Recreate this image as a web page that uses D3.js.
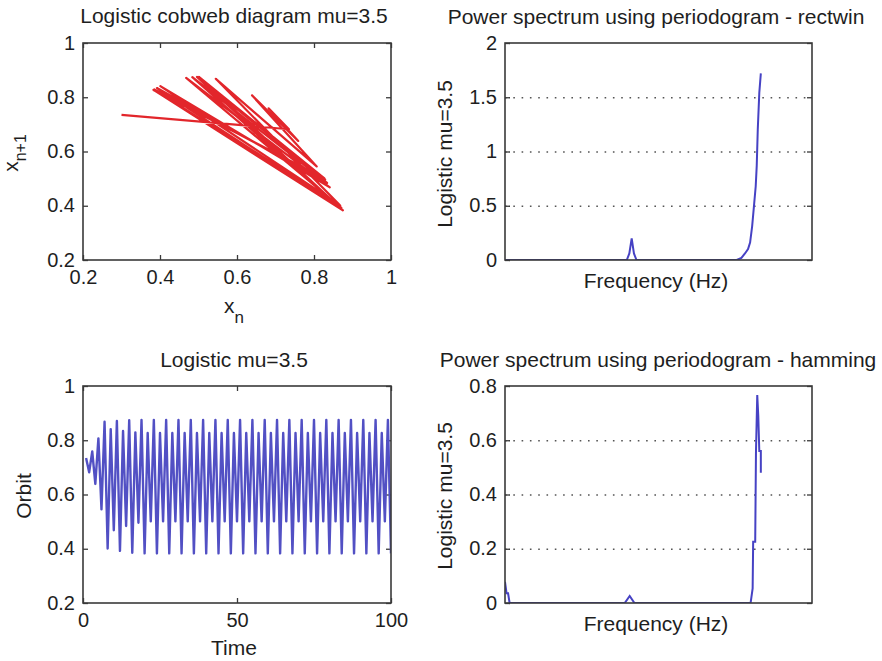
<!DOCTYPE html>
<html>
<head>
<meta charset="utf-8">
<script src="https://cdn.jsdelivr.net/npm/d3@7"></script>
<style>
  html, body { margin: 0; padding: 0; background: #fff; }
  svg { display: block; }
  text { font-family: "Liberation Sans", Arial, Helvetica, sans-serif; fill: #1e1e1e; }
</style>
</head>
<body>
<svg id="chart" width="882" height="661"></svg>
<script>
// ---------- DATA ----------
// logistic orbit x_0 .. x_100 (mu = 3.5)
const orbit = [
  0.300, 0.735, 0.682, 0.759, 0.639, 0.807, 0.545, 0.868, 0.401, 0.841,
  0.468, 0.871, 0.392, 0.834, 0.484, 0.874, 0.385, 0.829, 0.496, 0.875,
  0.383, 0.827, 0.501, 0.875, 0.383, 0.827, 0.501, 0.875, 0.383, 0.827,
  0.501, 0.875, 0.383, 0.827, 0.501, 0.875, 0.383, 0.827, 0.501, 0.875,
  0.383, 0.827, 0.501, 0.875, 0.383, 0.827, 0.501, 0.875, 0.383, 0.827,
  0.501, 0.875, 0.383, 0.827, 0.501, 0.875, 0.383, 0.827, 0.501, 0.875,
  0.383, 0.827, 0.501, 0.875, 0.383, 0.827, 0.501, 0.875, 0.383, 0.827,
  0.501, 0.875, 0.383, 0.827, 0.501, 0.875, 0.383, 0.827, 0.501, 0.875,
  0.383, 0.827, 0.501, 0.875, 0.383, 0.827, 0.501, 0.875, 0.383, 0.827,
  0.501, 0.875, 0.383, 0.827, 0.501, 0.875, 0.383, 0.827, 0.501, 0.875,
  0.383
];
// time index of the orbit plot (x_1 .. x_100 shown at t = 1 .. 100)
const orbitTime = d3.range(1, 101);

// periodogram, rectangular window
const rectFreq  = [0, 0.238, 0.243, 0.2476, 0.252, 0.257, 0.453, 0.462, 0.469, 0.475, 0.479, 0.483, 0.487, 0.490, 0.492, 0.494, 0.497, 0.500];
const rectPower = [0, 0,     0.06,  0.20,   0.06,  0,     0,     0.02,  0.06,  0.10,  0.16,  0.31,  0.52,  0.68,  0.87,  1.20,  1.54,  1.72];

// periodogram, hamming window
const hamFreq  = [0,     0.003, 0.006, 0.009, 0.234, 0.2437, 0.253, 0.480, 0.484, 0.485, 0.489, 0.4905, 0.493, 0.495, 0.497, 0.500, 0.500];
const hamPower = [0.078, 0.036, 0.036, 0,     0,     0.026,  0,     0,     0.054, 0.226, 0.226, 0.558,  0.767, 0.690, 0.560, 0.560, 0.480];

// tick labels
const unitTicks   = [0.2, 0.4, 0.6, 0.8, 1];
const timeTicks   = [0, 50, 100];
const rectTicks   = [0, 0.5, 1, 1.5, 2];
const hamTicks    = [0, 0.2, 0.4, 0.6, 0.8];

// texts
const titles = [
  "Logistic cobweb diagram mu=3.5",
  "Power spectrum using periodogram - rectwin",
  "Logistic mu=3.5",
  "Power spectrum using periodogram - hamming"
];

// ---------- DRAWING ----------
const svg = d3.select("#chart");
const fmt = d3.format("~g");
const BOX = "#3a3a3a";

function panel(opt) {
  const { left, top, right, bottom, x, y } = opt;
  const g = svg.append("g");
  const W = right - left, H = bottom - top;

  // grid
  if (opt.grid) {
    const gv = opt.yTicks.filter(v => v !== y.domain()[0] && v !== y.domain()[1]);
    g.append("g").attr("transform", `translate(${left},0)`)
      .call(d3.axisLeft(y).tickValues(gv).tickSize(-W).tickFormat(""))
      .call(s => s.select(".domain").remove())
      .call(s => s.selectAll("line").attr("stroke", "#555").attr("stroke-width", 1.6)
        .attr("stroke-dasharray", "1.6,6.7").attr("stroke-linecap", "butt"));
  }

  // inward ticks + labels
  const yl = g.append("g").attr("transform", `translate(${left},0)`)
    .call(d3.axisLeft(y).tickValues(opt.yTicks).tickSizeInner(-5).tickSizeOuter(0).tickPadding(8).tickFormat(fmt));
  yl.select(".domain").remove();
  yl.selectAll("text").attr("font-size", 20).attr("dy", "0.3em")
    .attr("font-family", "'Liberation Sans', Arial, sans-serif").attr("fill", "#1e1e1e");
  const yr = g.append("g").attr("transform", `translate(${right},0)`)
    .call(d3.axisRight(y).tickValues(opt.yTicks).tickSizeInner(-5).tickSizeOuter(0).tickFormat(""));
  yr.select(".domain").remove();

  if (opt.xTicks) {
    const xb = g.append("g").attr("transform", `translate(0,${bottom})`)
      .call(d3.axisBottom(x).tickValues(opt.xTicks).tickSizeInner(-5).tickSizeOuter(0).tickPadding(10).tickFormat(fmt));
    xb.select(".domain").remove();
    xb.selectAll("text").attr("font-size", 20)
      .attr("font-family", "'Liberation Sans', Arial, sans-serif").attr("fill", "#1e1e1e");
    const xt = g.append("g").attr("transform", `translate(0,${top})`)
      .call(d3.axisTop(x).tickValues(opt.xTicks).tickSizeInner(-5).tickSizeOuter(0).tickFormat(""));
    xt.select(".domain").remove();
  }
  g.selectAll(".tick line").filter(function () { return !this.getAttribute("stroke-dasharray"); })
    .attr("stroke", BOX).attr("stroke-width", 1.3);

  // data
  const clip = "clip" + Math.round(left) + "_" + Math.round(top);
  svg.append("clipPath").attr("id", clip).append("rect")
    .attr("x", left).attr("y", top).attr("width", W).attr("height", H);
  const dg = g.append("g").attr("clip-path", `url(#${clip})`);
  opt.draw(dg);

  // box
  g.append("rect").attr("x", left).attr("y", top).attr("width", W).attr("height", H)
    .attr("fill", "none").attr("stroke", BOX).attr("stroke-width", 1.6);

  // title
  svg.append("text").attr("x", opt.titleX).attr("y", opt.titleY).attr("text-anchor", "middle")
    .attr("font-size", 21).text(opt.title);
}

// ---- top-left: cobweb ----
{
  const x = d3.scaleLinear().domain([0.2, 1]).range([83, 391]);
  const y = d3.scaleLinear().domain([0.2, 1]).range([260, 43]);
  const pairs = d3.range(orbit.length - 1).map(i => [orbit[i], orbit[i + 1]]);
  panel({
    left: 83, top: 43, right: 391, bottom: 260, x, y,
    yTicks: unitTicks, xTicks: unitTicks,
    title: titles[0], titleX: 234, titleY: 23,
    draw: g => g.append("path").datum(pairs)
      .attr("d", d3.line().x(d => x(d[0])).y(d => y(d[1])))
      .attr("fill", "none").attr("stroke", "#e2262b").attr("stroke-width", 2.2)
      .attr("stroke-linejoin", "round")
  });
  const xl = svg.append("text").attr("x", 234).attr("y", 313).attr("text-anchor", "middle").attr("font-size", 21);
  xl.append("tspan").text("x");
  xl.append("tspan").attr("dy", 10).attr("font-size", 17).text("n");
  const yl = svg.append("text").attr("transform", "translate(18,153) rotate(-90)")
    .attr("text-anchor", "middle").attr("font-size", 21);
  yl.append("tspan").text("x");
  yl.append("tspan").attr("dy", 8).attr("font-size", 16).text("n+1");
}

// ---- top-right: rectwin periodogram ----
{
  const x = d3.scaleLinear().domain([0, 0.6]).range([505, 812]);
  const y = d3.scaleLinear().domain([0, 2]).range([260, 43]);
  panel({
    left: 505, top: 43, right: 812, bottom: 260, x, y,
    yTicks: rectTicks, grid: true,
    title: titles[1], titleX: 656, titleY: 24,
    draw: g => g.append("path").datum(d3.zip(rectFreq, rectPower))
      .attr("d", d3.line().x(d => x(d[0])).y(d => y(d[1])))
      .attr("fill", "none").attr("stroke", "#4642c4").attr("stroke-width", 2)
  });
  svg.append("text").attr("x", 656).attr("y", 288).attr("text-anchor", "middle").attr("font-size", 21).text("Frequency (Hz)");
  svg.append("text").attr("transform", "translate(452,154) rotate(-90)")
    .attr("text-anchor", "middle").attr("font-size", 21).text("Logistic mu=3.5");
}

// ---- bottom-left: orbit ----
{
  const x = d3.scaleLinear().domain([0, 100]).range([83, 391]);
  const y = d3.scaleLinear().domain([0.2, 1]).range([603, 386]);
  panel({
    left: 83, top: 386, right: 391, bottom: 603, x, y,
    yTicks: unitTicks, xTicks: timeTicks,
    title: titles[2], titleX: 234, titleY: 367,
    draw: g => g.append("path").datum(orbitTime.map(t => [t, orbit[t]]))
      .attr("d", d3.line().x(d => x(d[0])).y(d => y(d[1])))
      .attr("fill", "none").attr("stroke", "#5250c4").attr("stroke-width", 2.4)
      .attr("stroke-linejoin", "round")
  });
  svg.append("text").attr("x", 234).attr("y", 655).attr("text-anchor", "middle").attr("font-size", 21).text("Time");
  svg.append("text").attr("transform", "translate(31,496) rotate(-90)")
    .attr("text-anchor", "middle").attr("font-size", 21).text("Orbit");
}

// ---- bottom-right: hamming periodogram ----
{
  const x = d3.scaleLinear().domain([0, 0.6]).range([505, 812]);
  const y = d3.scaleLinear().domain([0, 0.8]).range([603, 386]);
  panel({
    left: 505, top: 386, right: 812, bottom: 603, x, y,
    yTicks: hamTicks, grid: true,
    title: titles[3], titleX: 658, titleY: 367,
    draw: g => g.append("path").datum(d3.zip(hamFreq, hamPower))
      .attr("d", d3.line().x(d => x(d[0])).y(d => y(d[1])))
      .attr("fill", "none").attr("stroke", "#4642c4").attr("stroke-width", 2)
  });
  svg.append("text").attr("x", 656).attr("y", 631).attr("text-anchor", "middle").attr("font-size", 21).text("Frequency (Hz)");
  svg.append("text").attr("transform", "translate(452,496) rotate(-90)")
    .attr("text-anchor", "middle").attr("font-size", 21).text("Logistic mu=3.5");
}
</script>
</body>
</html>
